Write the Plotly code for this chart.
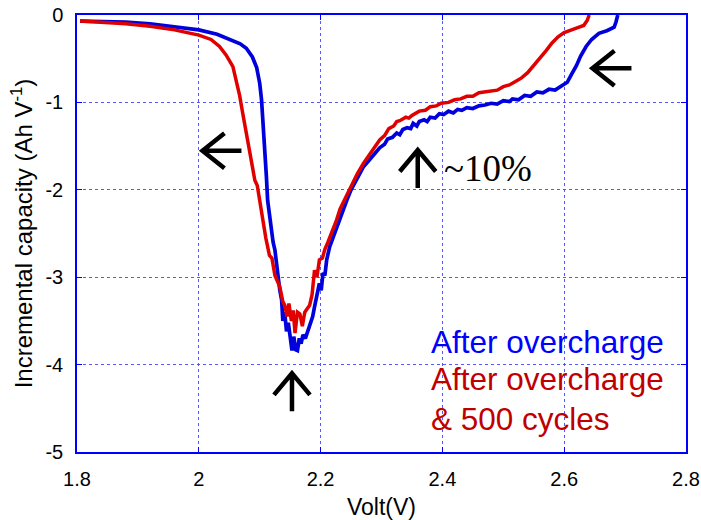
import plotly.graph_objects as go

# ---- data ----
blue_x = [1.805, 1.84, 1.88, 1.92, 1.96, 2.0, 2.03, 2.056, 2.068, 2.078, 2.088, 2.095, 2.10, 2.103,
          2.106, 2.108, 2.111, 2.113, 2.118, 2.122, 2.125, 2.129, 2.133, 2.136, 2.138, 2.141, 2.144,
          2.147, 2.150, 2.153, 2.156, 2.159, 2.162, 2.165, 2.168, 2.171, 2.175, 2.179, 2.183, 2.187,
          2.190, 2.194, 2.198, 2.201, 2.204, 2.207, 2.210, 2.215, 2.220, 2.226, 2.231, 2.237, 2.243,
          2.25, 2.26, 2.27, 2.28, 2.29, 2.297, 2.305, 2.31, 2.318, 2.325, 2.33, 2.335, 2.342, 2.348,
          2.352, 2.358, 2.362, 2.37, 2.375, 2.38, 2.388, 2.395, 2.402, 2.41, 2.418, 2.425, 2.432,
          2.44, 2.45, 2.46, 2.47, 2.48, 2.49, 2.50, 2.51, 2.515, 2.525, 2.535, 2.545, 2.555, 2.565,
          2.575, 2.585, 2.595, 2.605, 2.612, 2.62, 2.627, 2.636, 2.645, 2.657, 2.67, 2.682, 2.685, 2.688]
blue_y = [-0.07, -0.07, -0.08, -0.10, -0.13, -0.17, -0.22, -0.29, -0.33, -0.38, -0.48, -0.60, -0.78, -0.97,
          -1.25, -1.54, -1.85, -2.12, -2.40, -2.60, -2.69, -2.95, -3.15, -3.26, -3.50, -3.40, -3.62,
          -3.52, -3.70, -3.84, -3.68, -3.83, -3.84, -3.70, -3.76, -3.66, -3.70, -3.62, -3.52, -3.45,
          -3.34, -3.22, -3.07, -3.15, -2.95, -2.98, -2.80, -2.65, -2.55, -2.45, -2.35, -2.24, -2.12,
          -2.00, -1.86, -1.74, -1.66, -1.58, -1.52, -1.48, -1.42, -1.40, -1.35, -1.37, -1.31, -1.29, -1.30,
          -1.24, -1.27, -1.22, -1.20, -1.22, -1.17, -1.18, -1.13, -1.14, -1.10, -1.12, -1.08, -1.09,
          -1.06, -1.07, -1.04, -1.03, -1.01, -1.02, -0.98, -0.99, -0.96, -0.97, -0.92, -0.93, -0.88, -0.89,
          -0.85, -0.86, -0.81, -0.77, -0.68, -0.58, -0.47, -0.36, -0.28, -0.21, -0.18, -0.14, -0.08, 0.0]

red_x = [1.805, 1.84, 1.88, 1.92, 1.96, 2.0, 2.02, 2.034, 2.045, 2.056, 2.062, 2.067, 2.072, 2.078,
         2.085, 2.092, 2.096, 2.100, 2.105, 2.110, 2.116, 2.120, 2.125, 2.130, 2.133, 2.138, 2.141,
         2.145, 2.148, 2.152, 2.155, 2.158, 2.162, 2.166, 2.170, 2.174, 2.178, 2.182, 2.186, 2.190,
         2.194, 2.198, 2.203, 2.207, 2.212, 2.218, 2.226, 2.232, 2.240, 2.25, 2.26, 2.27, 2.28, 2.29,
         2.297, 2.305, 2.312, 2.32, 2.325, 2.33, 2.34, 2.345, 2.35, 2.362, 2.372, 2.38, 2.39, 2.398,
         2.41, 2.42, 2.43, 2.44, 2.45, 2.46, 2.47, 2.48, 2.49, 2.50, 2.51, 2.52, 2.53, 2.54, 2.55,
         2.56, 2.57, 2.58, 2.59, 2.60, 2.61, 2.62, 2.632, 2.638, 2.641]
red_y = [-0.07, -0.08, -0.10, -0.13, -0.17, -0.23, -0.28, -0.36, -0.46, -0.59, -0.75, -0.92, -1.12, -1.36,
         -1.62, -1.89, -1.95, -2.12, -2.35, -2.55, -2.75, -2.78, -2.98, -3.05, -3.11, -3.28, -3.32,
         -3.45, -3.30, -3.50, -3.38, -3.64, -3.40, -3.42, -3.56, -3.40, -3.35, -3.32, -3.20, -2.92,
         -3.00, -2.80, -2.78, -2.68, -2.60, -2.50, -2.35, -2.22, -2.10, -1.97, -1.82, -1.70, -1.60, -1.50,
         -1.43, -1.38, -1.30, -1.27, -1.22, -1.21, -1.17, -1.18, -1.15, -1.10, -1.09, -1.05, -1.04, -1.01,
         -1.00, -0.97, -0.96, -0.93, -0.93, -0.89, -0.88, -0.86, -0.86, -0.82, -0.80, -0.76, -0.72, -0.66, -0.58,
         -0.50, -0.41, -0.32, -0.25, -0.20, -0.17, -0.15, -0.12, -0.06, 0.0]

x_ticks = [1.8, 2.0, 2.2, 2.4, 2.6, 2.8]
x_ticklabels = ["1.8", "2", "2.2", "2.4", "2.6", "2.8"]
y_ticks = [-5, -4, -3, -2, -1, 0]
y_ticklabels = ["-5", "-4", "-3", "-2", "-1", "0"]

series_names = ["After overcharge", "After overcharge & 500 cycles"]

BLUE = "#0000DD"
RED = "#E00000"
GRID = "rgba(70,70,255,0.9)"

fig = go.Figure()
fig.add_trace(go.Scatter(x=blue_x, y=blue_y, mode="lines", name=series_names[0],
                         line=dict(color=BLUE, width=3.7)))
fig.add_trace(go.Scatter(x=red_x, y=red_y, mode="lines", name=series_names[1],
                         line=dict(color=RED, width=3.5)))

FONT = "Liberation Sans, Arial, sans-serif"

axis_common = dict(
    showgrid=True, gridcolor=GRID, griddash="dot", gridwidth=1,
    showline=True, linecolor="#0000FF", linewidth=1.5, mirror="ticks",
    ticks="inside", ticklen=5, tickcolor="#0000FF", tickwidth=1,
    zeroline=False, tickfont=dict(family=FONT, size=20, color="black"),
    ticklabelstandoff=8, automargin=False,
)

fig.update_layout(
    width=701, height=520,
    margin=dict(l=77, r=15, t=15, b=68),
    paper_bgcolor="white", plot_bgcolor="white",
    showlegend=False,
    font=dict(family=FONT, color="black"),
    xaxis=dict(range=[1.8, 2.8], tickvals=x_ticks, ticktext=x_ticklabels,
               title=dict(text="Volt(V)", font=dict(size=23, family=FONT), standoff=12),
               **axis_common),
    yaxis=dict(range=[-5, 0], tickvals=y_ticks, ticktext=y_ticklabels,
               title=dict(text="Incremental capacity (Ah V<sup>-1</sup>)", font=dict(size=24, family=FONT), standoff=6),
               **axis_common),
)

# annotation arrows (open chevron heads), drawn in pixels around an anchor point
LEFT_ARROW = "M0,0 L39,0 M22,17.5 L0,0 L22,-17.5"
UP_ARROW = "M0,0 L0,-38 M-18,-21.5 L0,0 L18,-21.5"
for ax_, ay_, p in [(2.006, -1.553, LEFT_ARROW), (2.6464, -0.61, LEFT_ARROW),
                    (2.153, -4.10, UP_ARROW), (2.3595, -1.545, UP_ARROW)]:
    fig.add_shape(type="path", xref="x", yref="y", xsizemode="pixel", ysizemode="pixel",
                  xanchor=ax_, yanchor=ay_, path=p, line=dict(color="black", width=4.5))

fig.add_annotation(x=2.399, y=-1.76, text="~10%", showarrow=False, xanchor="left",
                   font=dict(family="Liberation Serif, DejaVu Serif, serif", size=37, color="black"))

fig.add_annotation(x=2.378, y=-3.74, text=series_names[0], showarrow=False, xanchor="left",
                   font=dict(family=FONT, size=31.5, color="#0000FF"))
fig.add_annotation(x=2.378, y=-4.16, text="After overcharge", showarrow=False, xanchor="left",
                   font=dict(family=FONT, size=31.5, color="#C00000"))
fig.add_annotation(x=2.378, y=-4.62, text="&amp; 500 cycles", showarrow=False, xanchor="left",
                   font=dict(family=FONT, size=31.5, color="#C00000"))

fig.write_html("out.html")
